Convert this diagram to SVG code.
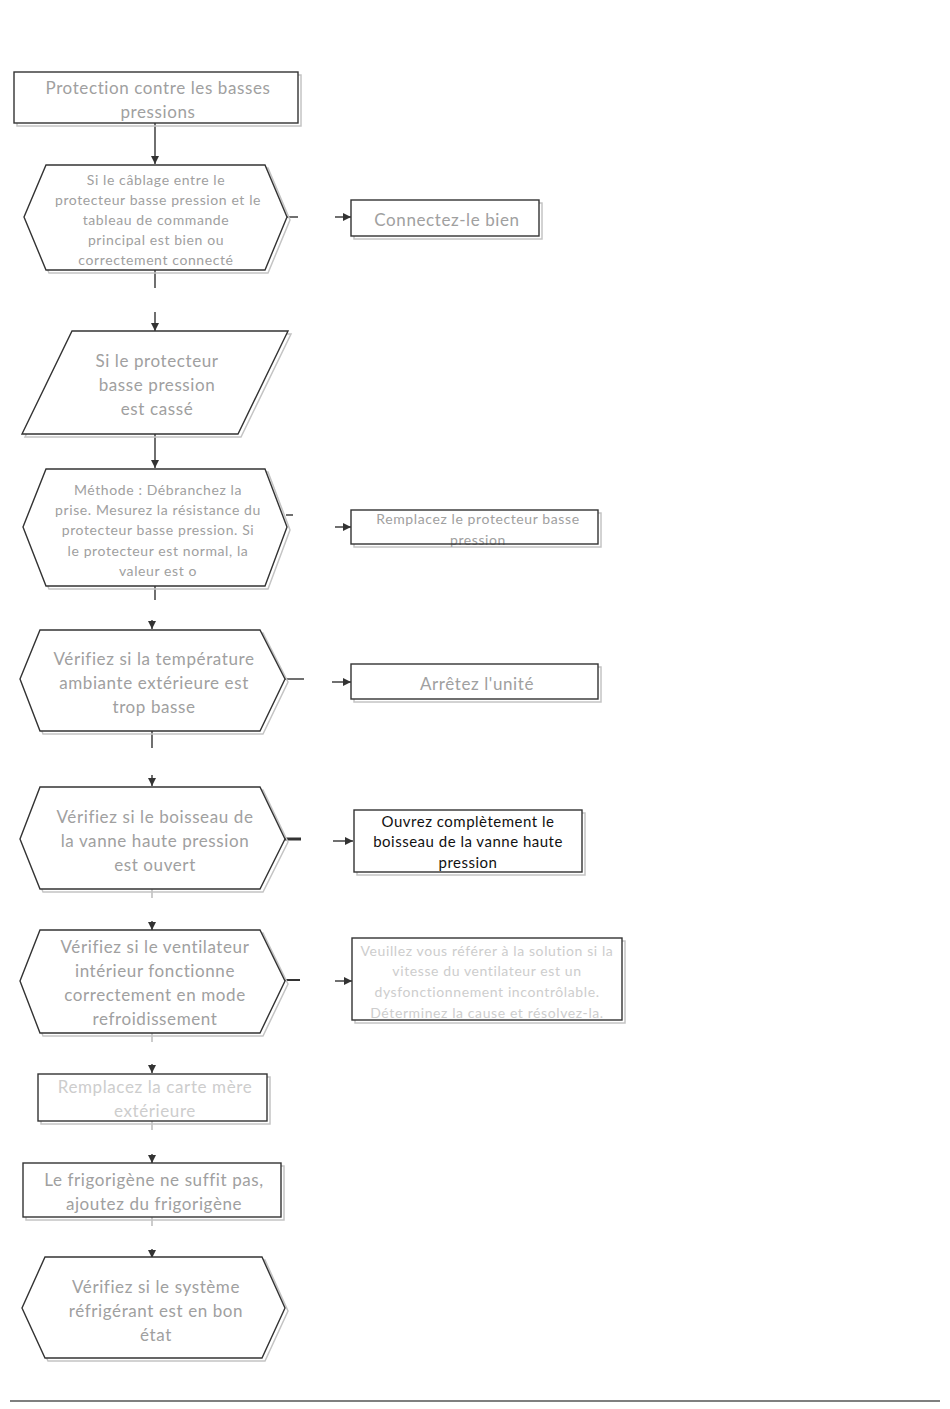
<svg xmlns="http://www.w3.org/2000/svg" width="950" height="1409" viewBox="0 0 950 1409">
<style>
.sh{fill:none;stroke:#c4c4c4;stroke-width:1.5}
.ol{fill:none;stroke:#333;stroke-width:1.4}
.bg{fill:#fff;stroke:none}
.t{font-family:Lato,"Open Sans","Liberation Sans",sans-serif;fill:#a0a0a0;text-anchor:middle;letter-spacing:0.6px}
.t17{font-size:17px}
.t14{font-size:14px}
.lt{fill:#cdcdcd}
.blk{fill:#111;font-size:15px;letter-spacing:0.5px}
.cn{stroke:#333;stroke-width:1.4;fill:none}
</style>
<defs>
<marker id="ah" viewBox="0 0 10 10" refX="10" refY="5" markerWidth="8" markerHeight="8" markerUnits="userSpaceOnUse" orient="auto">
<path d="M0,0 L10,5 L0,10 z" fill="#333"/>
</marker>
</defs>
<rect width="950" height="1409" fill="#fff"/>

<g id="connectors">
<line class="cn" x1="155" y1="123" x2="155" y2="164" marker-end="url(#ah)"/>
<line class="cn" x1="287" y1="217" x2="298" y2="217"/>
<line class="cn" x1="335" y1="217" x2="351" y2="217" marker-end="url(#ah)"/>
<line class="cn" x1="155" y1="270" x2="155" y2="288"/>
<line class="cn" x1="155" y1="312" x2="155" y2="331" marker-end="url(#ah)"/>
<line class="cn" x1="155" y1="434" x2="155" y2="468" marker-end="url(#ah)"/>
<line class="cn" x1="286" y1="515" x2="293" y2="515"/>
<line class="cn" x1="335" y1="527" x2="351" y2="527" marker-end="url(#ah)"/>
<line class="cn" x1="155" y1="586" x2="155" y2="600"/>
<line class="cn" x1="152" y1="620" x2="152" y2="629" marker-end="url(#ah)"/>
<line class="cn" x1="285" y1="679" x2="304" y2="679"/>
<line class="cn" x1="332" y1="682" x2="351" y2="682" marker-end="url(#ah)"/>
<line class="cn" x1="152" y1="731" x2="152" y2="748"/>
<line class="cn" x1="152" y1="775" x2="152" y2="786" marker-end="url(#ah)"/>
<line x1="285" y1="839" x2="301" y2="839" stroke="#333" stroke-width="3"/>
<line class="cn" x1="333" y1="841" x2="353" y2="841" marker-end="url(#ah)"/>
<line x1="152" y1="889" x2="152" y2="898" stroke="#999" stroke-width="1"/>
<line class="cn" x1="152" y1="921" x2="152" y2="930" marker-end="url(#ah)"/>
<line x1="285" y1="980" x2="300" y2="980" stroke="#333" stroke-width="2"/>
<line class="cn" x1="335" y1="981" x2="352" y2="981" marker-end="url(#ah)"/>
<line x1="152" y1="1033" x2="152" y2="1042" stroke="#999" stroke-width="1"/>
<line class="cn" x1="152" y1="1064" x2="152" y2="1073" marker-end="url(#ah)"/>
<line x1="152" y1="1121" x2="152" y2="1130" stroke="#999" stroke-width="1"/>
<line class="cn" x1="152" y1="1154" x2="152" y2="1163" marker-end="url(#ah)"/>
<line x1="152" y1="1217" x2="152" y2="1226" stroke="#999" stroke-width="1"/>
<line class="cn" x1="152" y1="1249" x2="152" y2="1258" marker-end="url(#ah)"/>
</g>

<g id="n1">
<rect class="sh" x="17" y="75" width="284" height="51"/>
<rect class="bg" x="14" y="72" width="284" height="51"/>
<rect class="ol" x="14" y="72" width="284" height="51"/>
<text class="t t17" x="158" y="94">Protection contre les basses</text>
<text class="t t17" x="158" y="118">pressions</text>
</g>

<g id="n2">
<polygon class="sh" points="49,168 268,168 290,220 268,273 49,273 27,220"/>
<polygon class="bg" points="46,165 265,165 287,217 265,270 46,270 24,217"/>
<polygon class="ol" points="46,165 265,165 287,217 265,270 46,270 24,217"/>
<text class="t t14" x="156" y="185">Si le câblage entre le</text>
<text class="t t14" x="158" y="205">protecteur basse pression et le</text>
<text class="t t14" x="156" y="225">tableau de commande</text>
<text class="t t14" x="156" y="245">principal est bien ou</text>
<text class="t t14" x="156" y="265">correctement connecté</text>
</g>

<g id="n3">
<rect class="sh" x="354" y="203" width="188" height="36"/>
<rect class="bg" x="351" y="200" width="188" height="36"/>
<rect class="ol" x="351" y="200" width="188" height="36"/>
<text class="t t17" x="447" y="226">Connectez-le bien</text>
</g>

<g id="n4">
<polygon class="sh" points="75,334 291,334 241,437 25,437"/>
<polygon class="bg" points="72,331 288,331 238,434 22,434"/>
<polygon class="ol" points="72,331 288,331 238,434 22,434"/>
<text class="t t17" x="157" y="367">Si le protecteur</text>
<text class="t t17" x="157" y="391">basse pression</text>
<text class="t t17" x="157" y="415">est cassé</text>
</g>

<g id="n5">
<polygon class="sh" points="49,472 268,472 290,530 268,589 49,589 26,530"/>
<polygon class="bg" points="46,469 265,469 287,527 265,586 46,586 23,527"/>
<polygon class="ol" points="46,469 265,469 287,527 265,586 46,586 23,527"/>
<text class="t t14" x="158" y="495">Méthode : Débranchez la</text>
<text class="t t14" x="158" y="515">prise. Mesurez la résistance du</text>
<text class="t t14" x="158" y="535">protecteur basse pression. Si</text>
<text class="t t14" x="158" y="556">le protecteur est normal, la</text>
<text class="t t14" x="158" y="576">valeur est o</text>
</g>

<g id="n6">
<rect class="sh" x="354" y="513" width="247" height="34"/>
<rect class="bg" x="351" y="510" width="247" height="34"/>
<text class="t t14" x="478" y="524">Remplacez le protecteur basse</text>
<text class="t t14" x="478" y="545">pression</text>
<rect class="ol" x="351" y="510" width="247" height="34"/>
</g>

<g id="n7">
<polygon class="sh" points="43,633 263,633 288,682 263,734 43,734 23,682"/>
<polygon class="bg" points="40,630 260,630 285,679 260,731 40,731 20,679"/>
<polygon class="ol" points="40,630 260,630 285,679 260,731 40,731 20,679"/>
<text class="t t17" x="154" y="665">Vérifiez si la température</text>
<text class="t t17" x="154" y="689">ambiante extérieure est</text>
<text class="t t17" x="154" y="713">trop basse</text>
</g>

<g id="n8">
<rect class="sh" x="354" y="667" width="247" height="35"/>
<rect class="bg" x="351" y="664" width="247" height="35"/>
<rect class="ol" x="351" y="664" width="247" height="35"/>
<text class="t t17" x="477" y="690">Arrêtez l'unité</text>
</g>

<g id="n9">
<polygon class="sh" points="43,790 263,790 288,842 263,892 43,892 23,842"/>
<polygon class="bg" points="40,787 260,787 285,839 260,889 40,889 20,839"/>
<polygon class="ol" points="40,787 260,787 285,839 260,889 40,889 20,839"/>
<text class="t t17" x="155" y="823">Vérifiez si le boisseau de</text>
<text class="t t17" x="155" y="847">la vanne haute pression</text>
<text class="t t17" x="155" y="871">est ouvert</text>
</g>

<g id="n10">
<rect class="sh" x="357" y="813" width="228" height="62"/>
<rect class="bg" x="354" y="810" width="228" height="62"/>
<rect class="ol" x="354" y="810" width="228" height="62"/>
<text class="t blk" x="468" y="827">Ouvrez complètement le</text>
<text class="t blk" x="468" y="847">boisseau de la vanne haute</text>
<text class="t blk" x="468" y="868">pression</text>
</g>

<g id="n11">
<polygon class="sh" points="43,933 263,933 288,984 263,1036 43,1036 23,984"/>
<polygon class="bg" points="40,930 260,930 285,981 260,1033 40,1033 20,981"/>
<polygon class="ol" points="40,930 260,930 285,981 260,1033 40,1033 20,981"/>
<text class="t t17" x="155" y="953">Vérifiez si le ventilateur</text>
<text class="t t17" x="155" y="977">intérieur fonctionne</text>
<text class="t t17" x="155" y="1001">correctement en mode</text>
<text class="t t17" x="155" y="1025">refroidissement</text>
</g>

<g id="n12">
<rect class="sh" x="355" y="941" width="270" height="82"/>
<rect class="bg" x="352" y="938" width="270" height="82"/>
<rect class="ol" x="352" y="938" width="270" height="82" stroke="#777"/>
<text class="t t14 lt" x="487" y="956">Veuillez vous référer à la solution si la</text>
<text class="t t14 lt" x="487" y="976">vitesse du ventilateur est un</text>
<text class="t t14 lt" x="487" y="997">dysfonctionnement incontrôlable.</text>
<text class="t t14 lt" x="487" y="1018">Déterminez la cause et résolvez-la.</text>
</g>

<g id="n13">
<rect class="sh" x="41" y="1077" width="229" height="47"/>
<rect class="bg" x="38" y="1074" width="229" height="47"/>
<rect class="ol" x="38" y="1074" width="229" height="47" stroke="#666"/>
<text class="t t17 lt" x="155" y="1093">Remplacez la carte mère</text>
<text class="t t17 lt" x="155" y="1117">extérieure</text>
</g>

<g id="n14">
<rect class="sh" x="26" y="1166" width="258" height="54"/>
<rect class="bg" x="23" y="1163" width="258" height="54"/>
<rect class="ol" x="23" y="1163" width="258" height="54"/>
<text class="t t17" x="154" y="1186">Le frigorigène ne suffit pas,</text>
<text class="t t17" x="154" y="1210">ajoutez du frigorigène</text>
</g>

<g id="n15">
<polygon class="sh" points="48,1260 265,1260 288,1311 265,1361 48,1361 25,1311"/>
<polygon class="bg" points="45,1257 262,1257 285,1308 262,1358 45,1358 22,1308"/>
<polygon class="ol" points="45,1257 262,1257 285,1308 262,1358 45,1358 22,1308"/>
<text class="t t17" x="156" y="1293">Vérifiez si le système</text>
<text class="t t17" x="156" y="1317">réfrigérant est en bon</text>
<text class="t t17" x="156" y="1341">état</text>
</g>

<line x1="10" y1="1401" x2="940" y2="1401" stroke="#555" stroke-width="1.3"/>
</svg>
